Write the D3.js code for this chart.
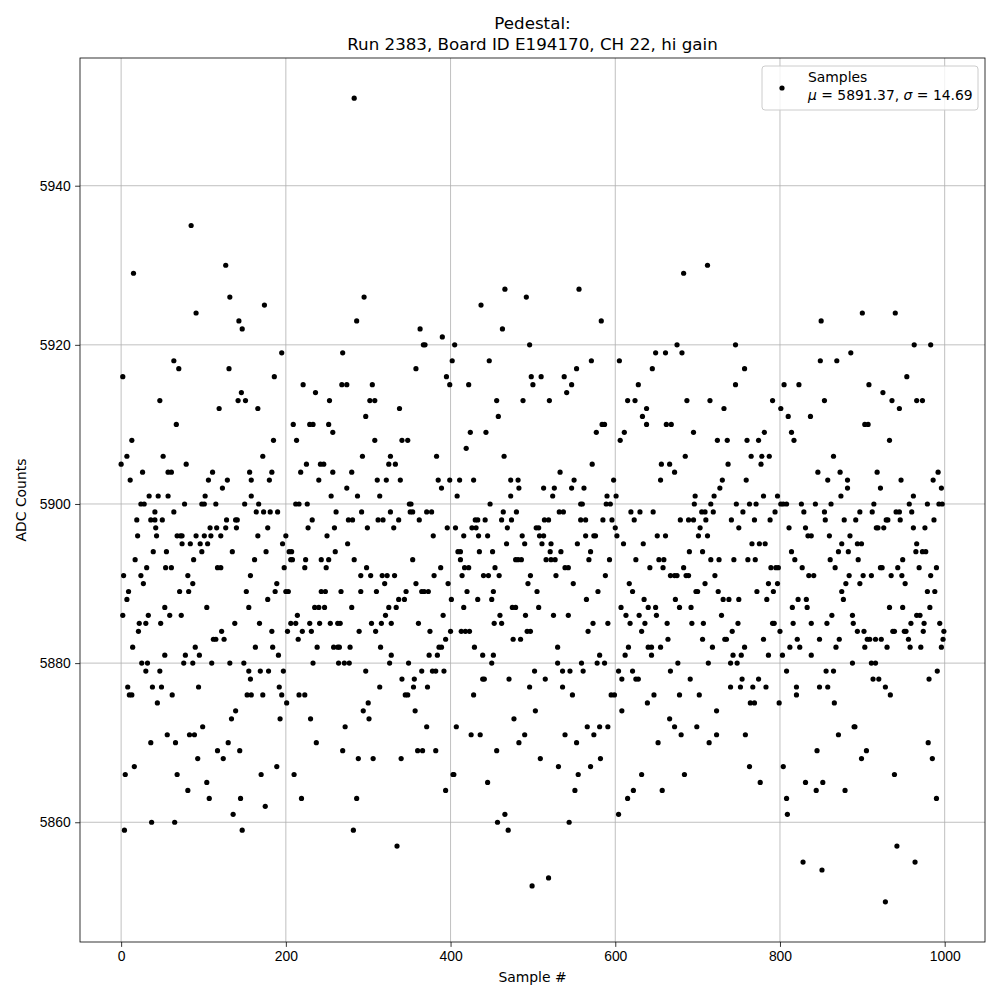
<!DOCTYPE html>
<html>
<head>
<meta charset="utf-8">
<script src="https://cdn.jsdelivr.net/npm/d3@7"></script>
<style>
  body { margin: 0; background: #fff; }
  svg { font-family: "DejaVu Sans", sans-serif; }
  .axis path, .axis line { stroke: #000; stroke-width: 0.8; }
  .axis text { font-size: 13.9px; fill: #000; }
  .grid line { stroke: #b0b0b0; stroke-width: 0.8; }
</style>
</head>
<body>
<svg width="1000" height="1000"></svg>
<script>
// ADC value -> sample numbers (pedestal run 2383, CH 22, hi gain)
let adcLevels = [5951, 5935, 5930, 5929, 5927, 5926, 5925, 5924, 5923, 5922, 5921, 5920,
  5919, 5918, 5917, 5916, 5915, 5914, 5913, 5912, 5911, 5910, 5909, 5908, 5907, 5906,
  5905, 5904, 5903, 5902, 5901, 5900, 5899, 5898, 5897, 5896, 5895, 5894, 5893, 5892,
  5891, 5890, 5889, 5888, 5887, 5886, 5885, 5884, 5883, 5882, 5881, 5880, 5879, 5878,
  5877, 5876, 5875, 5874, 5873, 5872, 5871, 5870, 5869, 5868, 5867, 5866, 5865, 5864,
  5863, 5862, 5861, 5860, 5859, 5857, 5855, 5854, 5853, 5852, 5850];

let samplesAtLevel = [
  [283],
  [85],
  [127, 712],
  [15, 683],
  [466, 556],
  [132, 295, 492],
  [174, 437],
  [91, 900, 940],
  [143, 286, 583, 850],
  [147, 363, 463],
  [390],
  [367, 369, 405, 496, 675, 746, 963, 983],
  [195, 269, 649, 661, 681, 886],
  [64, 402, 447, 571, 605, 849, 869],
  [70, 131, 358, 553, 645, 757],
  [2, 186, 395, 498, 510, 538, 954],
  [221, 268, 274, 305, 399, 422, 500, 547, 628, 746, 805, 823, 908],
  [146, 236, 541, 925],
  [47, 142, 151, 253, 302, 308, 456, 488, 520, 615, 624, 687, 715, 791, 854, 936, 966, 973],
  [119, 166, 338, 638, 732, 801, 945],
  [297, 458, 633, 810, 837],
  [67, 209, 229, 233, 252, 584, 587, 638, 662, 668, 903, 907],
  [257, 424, 443, 577, 611, 695, 781, 814],
  [13, 185, 213, 308, 341, 348, 606, 724, 736, 760, 774, 817, 933],
  [419],
  [7, 51, 172, 293, 327, 383, 465, 685, 765, 778, 787, 865],
  [0, 79, 225, 242, 246, 325, 333, 572, 656, 666, 737, 777],
  [26, 57, 61, 111, 156, 183, 218, 257, 280, 533, 672, 846, 873, 918, 992],
  [11, 106, 129, 158, 180, 240, 311, 322, 339, 385, 399, 411, 428, 473, 482, 550, 598, 655, 730, 759, 858, 882, 947, 986],
  [123, 274, 389, 483, 513, 526, 547, 562, 727, 882, 922, 996],
  [34, 45, 57, 102, 158, 255, 287, 314, 408, 473, 524, 590, 601, 697, 720, 780, 797, 874, 962],
  [24, 28, 77, 98, 101, 115, 150, 167, 212, 216, 226, 350, 352, 448, 558, 560, 589, 594, 696, 716, 747, 763, 771, 801, 804, 808, 826, 843, 862, 914, 957, 979, 993, 997],
  [41, 64, 164, 173, 181, 190, 261, 292, 327, 351, 354, 371, 377, 464, 480, 532, 537, 619, 630, 646, 705, 709, 719, 755, 794, 829, 854, 897, 912, 941, 945, 960],
  [19, 36, 41, 50, 128, 139, 141, 232, 276, 281, 312, 318, 337, 362, 430, 433, 442, 462, 474, 514, 519, 558, 564, 585, 596, 623, 679, 689, 695, 710, 741, 769, 788, 855, 878, 892, 929, 931, 946, 987],
  [42, 108, 116, 127, 140, 178, 227, 259, 299, 331, 396, 406, 426, 431, 469, 504, 507, 600, 703, 750, 811, 831, 917, 919, 926, 962, 976],
  [20, 43, 68, 72, 74, 91, 101, 109, 121, 166, 200, 250, 379, 416, 434, 445, 487, 508, 513, 564, 574, 576, 602, 651, 661, 701, 712, 834, 838, 860, 885],
  [74, 84, 96, 105, 196, 275, 468, 490, 511, 522, 554, 610, 634, 766, 775, 782, 875, 894, 899, 966],
  [39, 55, 98, 135, 176, 204, 207, 260, 409, 412, 435, 451, 521, 534, 570, 690, 706, 814, 871, 883, 965, 973, 977],
  [17, 88, 162, 206, 208, 224, 243, 252, 283, 354, 412, 479, 482, 486, 516, 522, 527, 568, 593, 625, 653, 659, 716, 726, 744, 761, 770, 818, 861, 895, 949],
  [31, 54, 61, 117, 121, 198, 223, 249, 298, 388, 417, 422, 454, 539, 543, 642, 658, 683, 789, 795, 798, 827, 867, 922, 924, 943, 969, 990],
  [3, 24, 81, 157, 291, 303, 317, 323, 332, 380, 414, 440, 446, 459, 497, 528, 588, 667, 672, 675, 686, 689, 721, 835, 841, 884, 901, 911, 935, 948, 983],
  [27, 87, 189, 320, 358, 397, 494, 549, 617, 709, 786, 797, 880, 897, 952],
  [9, 71, 82, 152, 187, 200, 203, 243, 248, 267, 291, 310, 346, 365, 368, 373, 420, 452, 505, 579, 621, 698, 700, 725, 772, 792, 875, 979, 988],
  [7, 178, 337, 344, 401, 433, 450, 565, 635, 673, 731, 738, 750, 784, 822, 832, 877],
  [53, 104, 155, 235, 240, 247, 280, 325, 334, 416, 475, 479, 507, 607, 640, 649, 678, 692, 815, 833, 933, 949, 982],
  [2, 33, 59, 73, 214, 321, 391, 460, 491, 525, 543, 613, 629, 650, 729, 863, 888, 966, 970],
  [22, 30, 48, 138, 168, 206, 212, 229, 241, 254, 263, 266, 304, 316, 328, 361, 453, 462, 573, 591, 618, 636, 663, 693, 707, 749, 791, 793, 816, 838, 857, 889, 959, 975, 994],
  [21, 122, 183, 202, 220, 231, 289, 309, 375, 400, 413, 418, 423, 493, 497, 567, 632, 742, 800, 894, 902, 937, 939, 951, 953, 974, 999],
  [112, 115, 125, 215, 394, 476, 485, 664, 706, 733, 735, 780, 821, 848, 872, 906, 909, 916, 923, 956, 998],
  [14, 90, 163, 184, 238, 258, 263, 265, 278, 315, 386, 389, 429, 530, 616, 640, 644, 655, 718, 757, 812, 824, 868, 903, 930, 958, 971, 996],
  [53, 78, 95, 191, 328, 374, 384, 439, 452, 581, 612, 644, 743, 753, 786, 803, 838],
  [25, 32, 76, 87, 110, 132, 149, 233, 264, 271, 277, 326, 349, 450, 530, 559, 578, 587, 676, 713, 740, 748, 888, 911, 916],
  [30, 47, 155, 169, 179, 197, 297, 365, 378, 382, 392, 502, 536, 545, 561, 604, 621, 667, 808, 856, 865, 991],
  [157, 341, 356, 439, 441, 471, 515, 608, 625, 628, 691, 754, 774, 913, 920, 981],
  [8, 38, 49, 94, 192, 314, 355, 372, 496, 536, 740, 752, 767, 783, 820, 848, 858, 928],
  [10, 13, 62, 153, 158, 172, 195, 216, 223, 345, 348, 428, 548, 595, 599, 647, 678, 702, 820, 934],
  [44, 201, 300, 639, 764, 769, 799, 866],
  [139, 294, 357, 503, 608, 723],
  [134, 193, 230, 301, 477, 666],
  [99, 272, 371, 407, 566, 581, 591, 672, 699, 890, 891],
  [56, 83, 89, 425, 436, 490, 539, 574, 680, 723, 758, 871],
  [36, 66, 130, 237, 483, 553, 652, 714, 980],
  [117, 144, 269, 360, 366, 382, 456, 845, 905],
  [93, 124, 288, 306, 340, 509, 582, 899, 985],
  [16, 189, 531, 570, 763, 804],
  [5, 68, 170, 210, 403, 404, 555, 632, 684, 939],
  [104, 445, 776, 831, 852],
  [81, 394, 551, 622, 657, 844, 879],
  [107, 145, 219, 286, 615, 808, 990],
  [175],
  [136, 466, 604, 809],
  [37, 65, 457, 544],
  [4, 147, 282, 470],
  [335, 942],
  [828, 964],
  [851],
  [519],
  [499],
  [928]
];

let xTicks = [0, 200, 400, 600, 800, 1000];
let yTicks = [5860, 5880, 5900, 5920, 5940];
let titleLines = ["Pedestal:", "Run 2383, Board ID E194170, CH 22, hi gain"];
let meanVal = 5891.37, sigmaVal = 14.69;

let data = [];
adcLevels.forEach((v, i) => {
    samplesAtLevel[i].forEach(s => data.push({ sample: s, adc: v }));
});

let svg = d3.select("svg");
let margin = { top: 58, right: 15, bottom: 58, left: 80 },
    width = +svg.attr("width") - margin.left - margin.right,
    height = +svg.attr("height") - margin.top - margin.bottom;

// matplotlib style 5% padding around data range
let xMin = 0, xMax = 999;
let yMin = d3.min(data, d => d.adc), yMax = d3.max(data, d => d.adc);
let xPad = (xMax - xMin) * 0.05, yPad = (yMax - yMin) * 0.05;

let x = d3.scaleLinear().domain([xMin - xPad, xMax + xPad]).range([0, width]);
let y = d3.scaleLinear().domain([yMin - yPad, yMax + yPad]).range([height, 0]);

let g = svg.append("g")
    .attr("transform", "translate(" + margin.left + "," + margin.top + ")");

// grid
g.append("g").classed("grid", true)
    .selectAll("line.gx").data(xTicks).enter().append("line")
    .attr("x1", d => x(d)).attr("x2", d => x(d))
    .attr("y1", 0).attr("y2", height);
g.append("g").classed("grid", true)
    .selectAll("line.gy").data(yTicks).enter().append("line")
    .attr("x1", 0).attr("x2", width)
    .attr("y1", d => y(d)).attr("y2", d => y(d));

g.selectAll(".pt")
    .data(data)
    .enter()
    .append("circle")
    .classed("pt", true)
    .attr("cx", d => x(d.sample))
    .attr("cy", d => y(d.adc))
    .attr("r", 2.6)
    .attr("fill", "#000");

// frame
g.append("rect")
    .attr("width", width).attr("height", height)
    .attr("fill", "none").attr("stroke", "#000").attr("stroke-width", 0.8);

g.append("g")
    .classed("axis", true)
    .attr("transform", "translate(0," + height + ")")
    .call(d3.axisBottom(x).tickValues(xTicks).tickSize(4.9).tickPadding(4.5).tickFormat(d3.format("d")))
    .call(a => a.select(".domain").remove());

g.append("g")
    .classed("axis", true)
    .call(d3.axisLeft(y).tickValues(yTicks).tickSize(4.9).tickPadding(4.5).tickFormat(d3.format("d")))
    .call(a => a.select(".domain").remove());

// axis titles
svg.append("text")
    .attr("x", margin.left + width / 2)
    .attr("y", 982)
    .attr("text-anchor", "middle")
    .style("font-size", "13.9px")
    .text("Sample #");

svg.append("text")
    .attr("transform", "translate(26," + (margin.top + height / 2) + ") rotate(-90)")
    .attr("text-anchor", "middle")
    .style("font-size", "13.9px")
    .text("ADC Counts");

// title
titleLines.forEach((t, i) => {
    svg.append("text")
        .attr("x", margin.left + width / 2)
        .attr("y", 29 + i * 21)
        .attr("text-anchor", "middle")
        .style("font-size", "16.7px")
        .text(t);
});

// legend
let lg = svg.append("g").attr("transform", "translate(762,66)");
lg.append("rect")
    .attr("width", 216).attr("height", 44)
    .attr("rx", 3)
    .attr("fill", "#fff").attr("fill-opacity", 0.8)
    .attr("stroke", "#cccccc").attr("stroke-width", 1);
lg.append("circle").attr("cx", 20).attr("cy", 22).attr("r", 2.6).attr("fill", "#000");
lg.append("text").attr("x", 46).attr("y", 16).style("font-size", "13.9px").text("Samples");
let t2 = lg.append("text").attr("x", 46).attr("y", 34).style("font-size", "13.9px");
t2.append("tspan").style("font-style", "italic").text("μ");
t2.append("tspan").text(" = " + meanVal.toFixed(2) + ", ");
t2.append("tspan").style("font-style", "italic").text("σ");
t2.append("tspan").text(" = " + sigmaVal.toFixed(2));
</script>
</body>
</html>
